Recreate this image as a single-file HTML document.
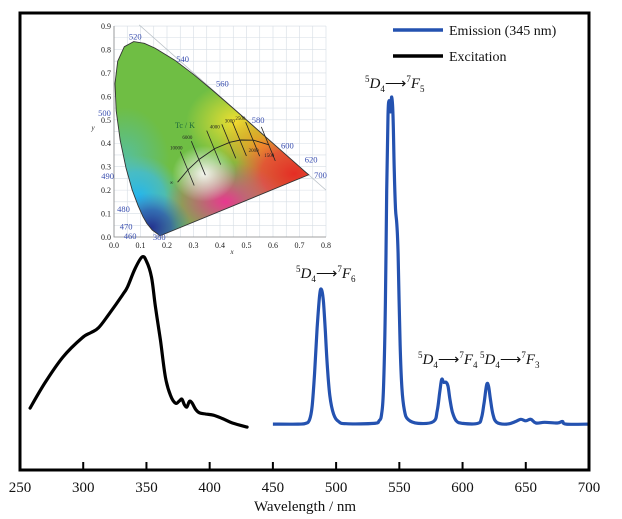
<!DOCTYPE html>
<html><head><meta charset="utf-8">
<style>
html,body{margin:0;padding:0;background:#fff;}
svg{display:block;font-family:"Liberation Serif",serif;}
</style></head>
<body>
<svg id="chart" width="622" height="519" viewBox="0 0 622 519" xmlns="http://www.w3.org/2000/svg">
<defs>
  <radialGradient id="gRed" cx="0.5" cy="0.5" r="0.5"><stop offset="0" stop-color="#e52d24"/><stop offset="0.55" stop-color="#ea4a35" stop-opacity="0.85"/><stop offset="1" stop-color="#ee6a40" stop-opacity="0"/></radialGradient>
  <radialGradient id="gYel" cx="0.5" cy="0.5" r="0.5"><stop offset="0" stop-color="#f2e030"/><stop offset="1" stop-color="#e8e030" stop-opacity="0"/></radialGradient>
  <radialGradient id="gOr" cx="0.5" cy="0.5" r="0.5"><stop offset="0" stop-color="#f39a22"/><stop offset="1" stop-color="#f39a22" stop-opacity="0"/></radialGradient>
  <radialGradient id="gBlue" cx="0.5" cy="0.5" r="0.5"><stop offset="0" stop-color="#23318f"/><stop offset="0.5" stop-color="#2e5ab0" stop-opacity="0.8"/><stop offset="1" stop-color="#3a7ac8" stop-opacity="0"/></radialGradient>
  <radialGradient id="gCyan" cx="0.5" cy="0.5" r="0.5"><stop offset="0" stop-color="#22b6ee"/><stop offset="0.6" stop-color="#3fbbe0" stop-opacity="0.7"/><stop offset="1" stop-color="#5ac0c0" stop-opacity="0"/></radialGradient>
  <radialGradient id="gTeal" cx="0.5" cy="0.5" r="0.5"><stop offset="0" stop-color="#55bfa0"/><stop offset="1" stop-color="#55bfa0" stop-opacity="0"/></radialGradient>
  <radialGradient id="gMag" cx="0.5" cy="0.5" r="0.5"><stop offset="0" stop-color="#e8388f"/><stop offset="1" stop-color="#e8388f" stop-opacity="0"/></radialGradient>
  <radialGradient id="gWhite" cx="0.5" cy="0.5" r="0.5"><stop offset="0" stop-color="#ffffff" stop-opacity="0.9"/><stop offset="0.5" stop-color="#fbf4f6" stop-opacity="0.5"/><stop offset="1" stop-color="#ffffff" stop-opacity="0"/></radialGradient>
  <clipPath id="locusClip"><path id="locusClipPath" d=""/></clipPath>
</defs>
<g id="inset"></g>
<g id="main"></g>
</svg>
<script>
// ===== Main chart data =====
const excWavelengths = [258,270,284,299,306,312,320,331,335,341,346.5,350,354,357,361,365,369,373,376,378,380,382,384,386,389,392,397,403,410,418,429.6];
const excValues = [16.6,23.5,30.3,35.4,36.8,38.1,41.6,46.9,49.1,54,57.1,56,51.7,44,34.9,24.9,20,17.9,18.5,19.0,17.5,16.9,18.4,18.0,16.2,15.3,15.0,14.7,13.8,12.6,11.5];
const emWavelengths = [450,470,476,479,481,483,485,487,488.5,490,491.5,493,495,498,502,508,530,534,536,537.5,539,540,541,542,543,544,545,546,547,548,549,550.5,552,554,557,565,577,580,582,583.5,585,587,588.5,590,592,595,600,612,615,617,619,620.5,622,624,627,635,642,646,650,654,658,665,675,679,682,700];
const emValues = [12.3,12.3,12.5,13.5,17,26,38,47,48.3,45,37,28,20,15,13,12.4,12.5,13.2,15,22,45,75,95,99,96,100,95,80,70,66,58,35,22,16,13.5,12.5,13,16,21,24.3,23.5,23.5,22.5,19,15.5,13.2,12.5,12.5,14,18,22.8,22.5,19,15,12.8,12.3,13,13.6,13.2,13.6,12.6,12.8,12.6,13,12.3,12.3];
const xTicks = [250,300,350,400,450,500,550,600,650,700];
const peakLabels = [["6",488,296,278],["5",543,365,88],["4",585,418,364],["3",620,480,364]];

// ===== Inset (CIE) data =====
const locusX = [0.1741,0.1440,0.1241,0.1096,0.0913,0.0687,0.0454,0.0235,0.0082,0.0039,0.0139,0.0389,0.0743,0.1142,0.1547,0.2296,0.3016,0.3731,0.4441,0.5125,0.5752,0.6270,0.6915,0.7190,0.7347];
const locusY = [0.0050,0.0297,0.0578,0.0868,0.1327,0.2007,0.2950,0.4127,0.5384,0.6548,0.7502,0.8120,0.8338,0.8262,0.8059,0.7543,0.6923,0.6245,0.5547,0.4866,0.4242,0.3725,0.3083,0.2809,0.2653];
const wlLabels = ["380","460","470","480","490","500","520","540","560","580","600","620","700"];
const wlLabelX = [0.195,0.085,0.07,0.06,0.0,-0.012,0.08,0.235,0.385,0.52,0.63,0.72,0.755];
const wlLabelY = [0.0,0.005,0.045,0.12,0.26,0.53,0.855,0.76,0.655,0.5,0.39,0.33,0.265];
const planckX = [0.24,0.28,0.322,0.38,0.437,0.477,0.527,0.586];
const planckY = [0.234,0.288,0.332,0.377,0.404,0.414,0.413,0.393];
const isoLabels = ["∞","10000","6000","4000","3000","2500","2000","1500"];
const insetXTicks = [0.0,0.1,0.2,0.3,0.4,0.5,0.6,0.7,0.8];
const insetYTicks = [0.0,0.1,0.2,0.3,0.4,0.5,0.6,0.7,0.8,0.9];

const NS = "http://www.w3.org/2000/svg";
function mk(tag, attrs, parent){const e=document.createElementNS(NS,tag);for(const k in attrs)e.setAttribute(k,attrs[k]);parent.appendChild(e);return e;}

const X0=20,X1=589,Y0=470,Y1=13;
function sx(w){return X0+(w-250)/(700-250)*(X1-X0);}
function sy(v){return Y0-v*3.73;}
const ix=v=>114+v*265, iy=v=>237-v*234.4;

// ---------- Inset ----------
const inset=document.getElementById('inset');
for(let g=0; g<=0.8001; g+=0.05){
  const l=mk('line',{x1:ix(g),y1:iy(0),x2:ix(g),y2:iy(0.9),stroke:'#d6dde4','stroke-width':0.6},inset);
  
  
}
for(let g=0; g<=0.9001; g+=0.05){
  const l=mk('line',{x1:ix(0),y1:iy(g),x2:ix(0.8),y2:iy(g),stroke:'#d6dde4','stroke-width':0.6},inset);
  
  
}
const diag=mk('line',{x1:ix(0.095),y1:iy(0.905),x2:ix(0.8),y2:iy(0.2),stroke:'#b9c0c6','stroke-width':0.8},inset);


let d='';
for(let i=0;i<locusX.length;i++){d+=(i?'L':'M')+ix(locusX[i]).toFixed(1)+','+iy(locusY[i]).toFixed(1);}
d+='Z';
document.getElementById('locusClipPath').setAttribute('d',d);
const fillG=mk('g',{'clip-path':'url(#locusClip)'},inset);


mk('rect',{x:100,y:20,width:240,height:230,fill:'#6fbe44'},fillG);
mk('ellipse',{cx:ix(0.04),cy:iy(0.32),rx:45,ry:55,fill:'url(#gTeal)'},fillG);
mk('ellipse',{cx:ix(0.09),cy:iy(0.17),rx:45,ry:42,fill:'url(#gCyan)'},fillG);
mk('ellipse',{cx:ix(0.46),cy:iy(0.49),rx:50,ry:40,fill:'url(#gYel)'},fillG);
mk('ellipse',{cx:ix(0.56),cy:iy(0.39),rx:45,ry:35,fill:'url(#gOr)'},fillG);
mk('ellipse',{cx:ix(0.68),cy:iy(0.27),rx:60,ry:45,fill:'url(#gRed)'},fillG);
mk('ellipse',{cx:ix(0.42),cy:iy(0.15),rx:60,ry:40,fill:'url(#gMag)'},fillG);
mk('ellipse',{cx:ix(0.14),cy:iy(0.04),rx:40,ry:35,fill:'url(#gBlue)'},fillG);
mk('ellipse',{cx:ix(0.34),cy:iy(0.27),rx:32,ry:28,fill:'url(#gWhite)'},fillG);
const locus=mk('path',{d:d,fill:'none',stroke:'#333','stroke-width':0.9},inset);


const iax=mk('path',{d:`M${ix(0)},${iy(0.9)}V${iy(0)}H${ix(0.8)}`,fill:'none',stroke:'#888','stroke-width':0.8},inset);


insetXTicks.forEach(t=>{
  const e=mk('text',{x:ix(t),y:iy(0)+11,'font-size':8,'text-anchor':'middle',fill:'#222'},inset);
  e.textContent=t.toFixed(1);
  
  
});
insetYTicks.forEach(t=>{
  const e=mk('text',{x:ix(0)-3,y:iy(t)+3,'font-size':8,'text-anchor':'end',fill:'#222'},inset);
  e.textContent=t.toFixed(1);
  
  
});
const xl=mk('text',{x:232,y:254,'font-size':7,'font-style':'italic','text-anchor':'middle',fill:'#222'},inset);
xl.textContent='x';


const yl=mk('text',{x:93,y:130,'font-size':7,'font-style':'italic','text-anchor':'middle',fill:'#222'},inset);
yl.textContent='y';


wlLabels.forEach((w,i)=>{
  const e=mk('text',{x:ix(wlLabelX[i]),y:iy(wlLabelY[i])+3,'font-size':8.5,fill:'#3a4fb0','text-anchor':wlLabelX[i]<0.2?'end':'start'},inset);
  if(wlLabelX[i]<0.2 && i>5){e.setAttribute('text-anchor','middle');}
  e.textContent=w;
  
  
});
let pd='';
for(let i=0;i<planckX.length;i++){pd+=(i?'L':'M')+ix(planckX[i]).toFixed(1)+','+iy(planckY[i]).toFixed(1);}
const pl=mk('path',{d:pd,fill:'none',stroke:'#222','stroke-width':0.9},inset);


for(let i=1;i<planckX.length;i++){
  const cxp=ix(planckX[i]),cyp=iy(planckY[i]);
  const iso=mk('line',{x1:cxp-8,y1:cyp-18,x2:cxp+6,y2:cyp+16,stroke:'#222','stroke-width':0.8},inset);
  
  
}
isoLabels.forEach((s,i)=>{
  const below = i>=6;
  const e=mk('text',{x:ix(planckX[i])+(i==0?-6:i<3?-12:0),y:iy(planckY[i])+(below?12:(i==0?2:-20)),'font-size':5,'text-anchor':'middle',fill:'#222'},inset);
  e.textContent=s;
  
  
});
const tc=mk('text',{x:175,y:128,'font-size':8,fill:'#1e6a3a'},inset);
tc.textContent='Tc / K';



// ---------- Main ----------
const main=document.getElementById('main');
function smoothPath(xs,ys){
  const P=xs.map((x,i)=>[sx(x),sy(ys[i])]);
  let p='M'+P[0][0].toFixed(1)+','+P[0][1].toFixed(1);
  for(let i=0;i<P.length-1;i++){
    const p0=P[Math.max(0,i-1)],p1=P[i],p2=P[i+1],p3=P[Math.min(P.length-1,i+2)];
    const t=0.18;
    const c1=[p1[0]+(p2[0]-p0[0])*t,p1[1]+(p2[1]-p0[1])*t];
    const c2=[p2[0]-(p3[0]-p1[0])*t,p2[1]-(p3[1]-p1[1])*t];
    p+='C'+c1[0].toFixed(1)+','+c1[1].toFixed(1)+' '+c2[0].toFixed(1)+','+c2[1].toFixed(1)+' '+p2[0].toFixed(1)+','+p2[1].toFixed(1);
  }
  return p;
}
const exc=mk('path',{d:smoothPath(excWavelengths,excValues),fill:'none',stroke:'#000','stroke-width':3.2,'stroke-linejoin':'round','stroke-linecap':'round'},main);


const em=mk('path',{d:smoothPath(emWavelengths,emValues),fill:'none',stroke:'#2452b0','stroke-width':3.2,'stroke-linejoin':'round'},main);


const frame=mk('rect',{x:X0,y:Y1,width:X1-X0,height:Y0-Y1,fill:'none',stroke:'#000','stroke-width':3},main);


xTicks.forEach(t=>{
  const tk=mk('line',{x1:sx(t),y1:Y0,x2:sx(t),y2:Y0-8,stroke:'#000','stroke-width':2},main);
  
  
  const lb=mk('text',{x:sx(t),y:Y0+22,'font-size':15,'text-anchor':'middle',fill:'#111'},main);
  lb.textContent=t;
  
  
});
const xt=mk('text',{x:305,y:511,'font-size':15,'text-anchor':'middle',fill:'#111'},main);
xt.textContent='Wavelength / nm';


const lg1=mk('line',{x1:393,y1:30,x2:443,y2:30,stroke:'#2452b0','stroke-width':3.5},main);


const lt1=mk('text',{x:449,y:35,'font-size':14,fill:'#111'},main);
lt1.textContent='Emission (345 nm)';


const lg2=mk('line',{x1:393,y1:56,x2:443,y2:56,stroke:'#000','stroke-width':3.5},main);


const lt2=mk('text',{x:449,y:61,'font-size':14,fill:'#111'},main);
lt2.textContent='Excitation';


peakLabels.forEach(p=>{
  const t=mk('text',{x:p[2],y:p[3],'font-size':15,fill:'#111'},main);
  t.innerHTML='<tspan font-size="9" dy="-6">5</tspan><tspan font-style="italic" dy="6">D</tspan><tspan font-size="9" dy="4">4</tspan><tspan dy="-4">⟶</tspan><tspan font-size="9" dy="-6">7</tspan><tspan font-style="italic" dy="6">F</tspan><tspan font-size="9" dy="4">'+p[0]+'</tspan>';
  
  
});
</script>
</body></html>
